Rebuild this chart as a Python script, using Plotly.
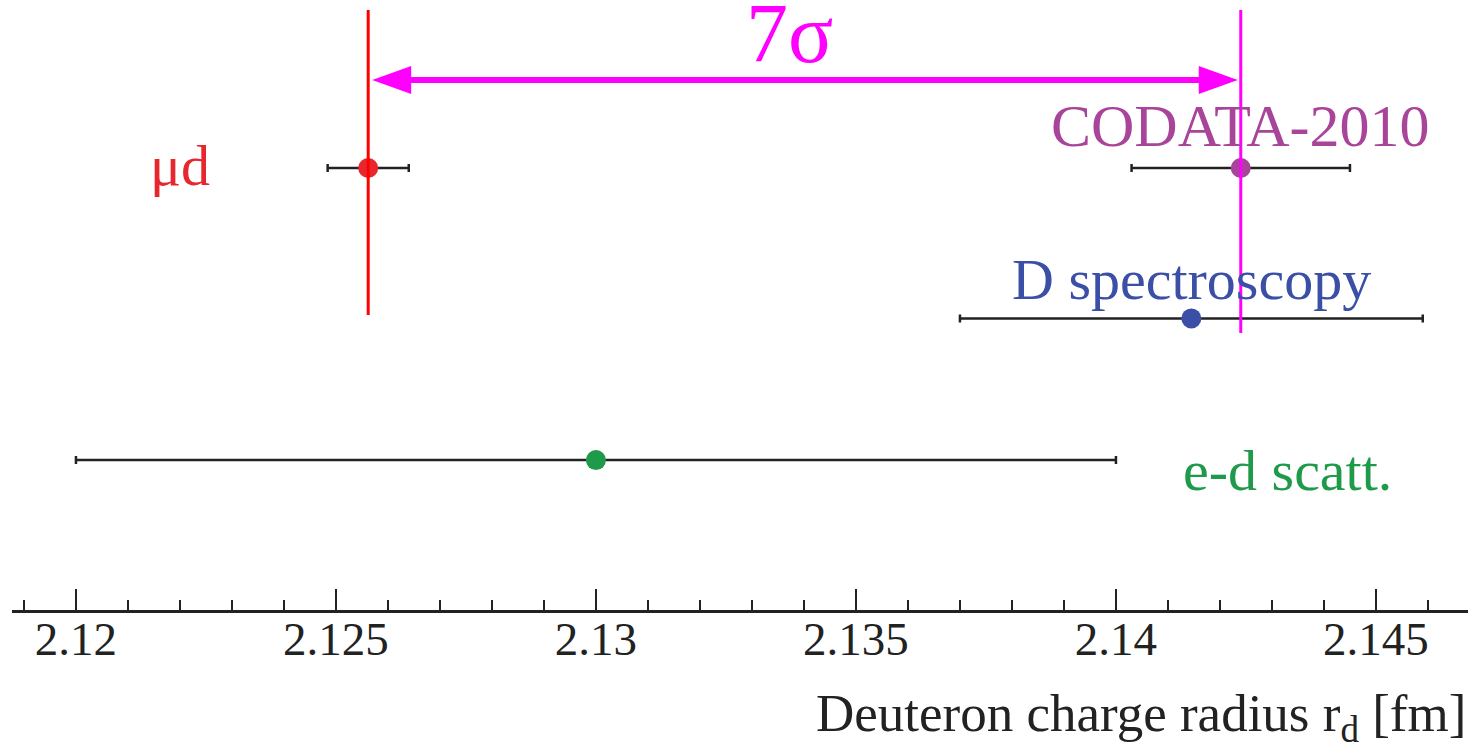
import plotly.graph_objects as go

# ---- data ----
names = ["μd", "CODATA-2010", "D spectroscopy", "e-d scatt."]
values = [2.12562, 2.1424, 2.14145, 2.130]
errors = [0.00078, 0.0021, 0.00445, 0.010]
rows = [3, 3, 1.97, 1]
marker_colors = ["#e8262e", "#a8449a", "#3a4fa5", "#1f9a4a"]
label_x = [2.1220, 2.1424, 2.14145, 2.1433]
label_shift = [3, 42, 39, -10]
label_size = [58, 60, 58, 58]
tick_vals = [2.12, 2.125, 2.13, 2.135, 2.14, 2.145]
tick_text = ["2.12", "2.125", "2.13", "2.135", "2.14", "2.145"]
sigma_label = "7σ"

FONT = "Liberation Serif"
W, H = 1480, 752
ML, MR, MT, MB = 12, 12, 0, 142
xr = [2.11877, 2.14677]
yr = [-0.027, 4.151]
px_per_x = (W - ML - MR) / (xr[1] - xr[0])

fig = go.Figure()
fig.add_trace(go.Scatter(
    x=values, y=rows, mode="markers",
    marker=dict(size=20, color=marker_colors, line=dict(width=0)),
    error_x=dict(type="data", array=errors, visible=True, color="#222222",
                 thickness=2.5, width=4),
    showlegend=False, hoverinfo="skip"))

mu, codata = values[0], values[1]
# vertical lines
fig.add_shape(type="line", x0=mu, x1=mu, y0=1.993, y1=4.082, xref="x", yref="y",
              line=dict(color="#ff0000", width=3), layer="above")
fig.add_shape(type="line", x0=codata, x1=codata, y0=1.870, y1=4.082, xref="x", yref="y",
              line=dict(color="#ff00ff", width=3), layer="above")

# double arrow
arrow_y = 3.603
off = 38 / px_per_x
fig.add_shape(type="line", x0=mu + off, x1=codata - off, y0=arrow_y, y1=arrow_y,
              xref="x", yref="y", line=dict(color="#ff00ff", width=6))
fig.add_shape(type="path", xsizemode="pixel", ysizemode="pixel",
              xanchor=mu, yanchor=arrow_y, xref="x", yref="y",
              path="M4,0 L43,14 L43,-14 Z", fillcolor="#ff00ff", line=dict(width=0))
fig.add_shape(type="path", xsizemode="pixel", ysizemode="pixel",
              xanchor=codata, yanchor=arrow_y, xref="x", yref="y",
              path="M-3,0 L-42,14 L-42,-14 Z", fillcolor="#ff00ff", line=dict(width=0))

fig.add_annotation(x=(mu + codata) / 2, y=arrow_y, xref="x", yref="y",
                   text=sigma_label, showarrow=False, xshift=-15, yshift=-2,
                   yanchor="bottom",
                   font=dict(family=FONT, size=84, color="#ff00ff"))

# labels
for n, lx, r, s, c, fs in zip(names, label_x, rows, label_shift, marker_colors, label_size):
    fig.add_annotation(x=lx, y=r, xref="x", yref="y", text=n, showarrow=False,
                       yshift=s, font=dict(family=FONT, size=fs, color=c))

# axis title
fig.add_annotation(x=1.0, y=-0.175, xref="paper", yref="paper",
                   xanchor="right", yanchor="middle", showarrow=False,
                   text="Deuteron charge radius r<sub><span style='color:#222222'>d</span></sub> [fm]",
                   font=dict(family=FONT, size=53, color="#222222"))

fig.update_xaxes(range=xr, showgrid=False, zeroline=False, showline=True,
                 linecolor="#222222", linewidth=2.5,
                 ticks="inside", ticklen=21, tickwidth=2, tickcolor="#222222",
                 tickmode="array", tickvals=tick_vals, ticktext=tick_text,
                 ticklabelstandoff=-14,
                 tickfont=dict(family=FONT, size=47, color="#222222"),
                 minor=dict(dtick=0.001, tick0=2.12, ticks="inside", ticklen=10,
                            tickwidth=2, tickcolor="#222222"))
fig.update_yaxes(range=yr, visible=False, showgrid=False, zeroline=False)
fig.update_layout(width=W, height=H, margin=dict(l=ML, r=MR, t=MT, b=MB),
                  plot_bgcolor="white", paper_bgcolor="white")
fig.write_html("out.html")
